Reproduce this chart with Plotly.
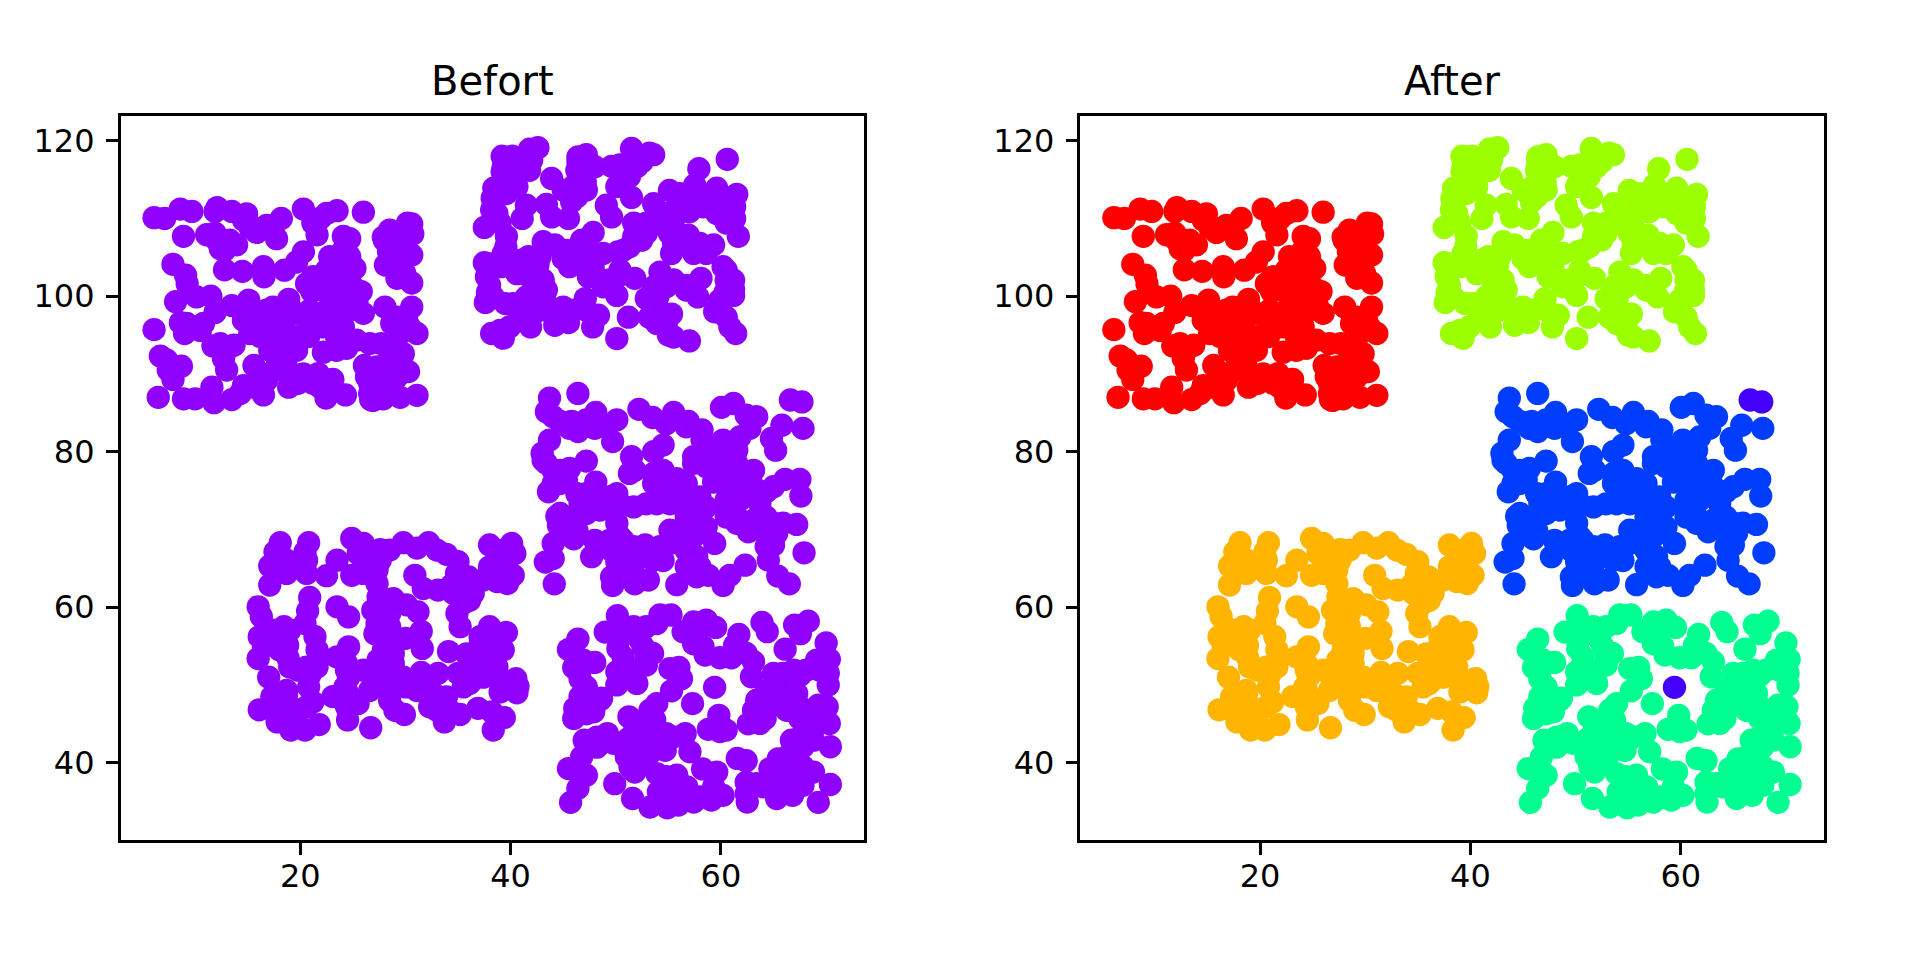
import plotly.graph_objects as go

cluster_red = [(6.1,110.1),(7.1,110.0),(8.6,111.2),(9.7,110.9),(8.9,107.7),(12.1,111.4),(11.9,110.9),(13.5,110.9),(14.9,110.6),(18.2,110.0),(20.3,111.2),(23.5,111.0),(26.0,110.8),(21.9,110.0),(21.6,107.9),(24.1,107.7),(24.7,107.4),(11.1,107.9),(11.9,108.1),(12.4,106.1),(13.95,106.6),(12.8,105.9),(14.6,109.8),(15.85,108.2),(16.8,109.1),(17.75,107.4),(28.5,108.5),(30.2,109.4),(30.6,109.3),(30.7,108.0),(28.0,107.2),(7.9,104.1),(9.1,102.7),(9.25,101.6),(8.15,99.3),(10.15,99.9),(11.5,100.0),(11.9,97.9),(13.5,98.8),(15.1,99.5),(12.8,103.4),(14.5,103.2),(16.5,103.8),(16.55,102.5),(18.5,103.35),(20.3,105.7),(19.65,104.4),(21.2,102.5),(23.3,104.2),(24.7,105.1),(25.2,103.6),(24.6,102.1),(21.1,100.6),(25.8,100.6),(28.4,105.7),(30.6,105.3),(29.2,102.3),(30.6,101.7),(28.1,104.0),(29.95,102.9),(29.5,105.1),(17.4,98.6),(18.9,99.6),(19.65,97.8),(14.6,96.9),(15.2,95.2),(17.1,96.5),(21.9,97.8),(23.5,98.2),(26.0,97.8),(28.05,98.6),(30.6,98.6),(30.1,97.1),(31.1,95.2),(29.5,95.2),(6.1,95.7),(8.6,96.6),(9.0,95.2),(10.5,95.6),(11.7,93.6),(13.7,93.7),(20.8,94.8),(22.2,92.8),(24.4,93.3),(26.6,93.9),(27.7,93.9),(17.75,93.9),(18.7,93.9),(22.2,96.05),(24.1,96.05),(23.1,99.9),(6.7,92.3),(8.7,91.0),(7.45,90.5),(7.9,89.3),(13.0,90.5),(12.7,92.0),(15.6,91.1),(17.7,92.4),(18.7,90.9),(20.3,90.0),(22.0,89.6),(23.1,89.3),(29.8,92.6),(29.0,90.9),(30.3,90.3),(26.1,91.1),(27.3,90.9),(26.6,88.8),(28.5,88.8),(6.5,87.0),(8.9,86.8),(10.0,86.8),(11.6,88.3),(11.8,86.3),(13.5,86.7),(14.6,88.5),(16.5,87.3),(16.8,89.2),(18.9,88.3),(19.8,88.8),(21.9,88.3),(22.45,86.9),(24.3,87.3),(26.7,86.7),(26.9,86.6),(27.9,86.8),(29.5,87.0),(31.1,87.25),
(22.2,100.8),(24.1,99.9),(24.7,98.2),(22.5,98.2),(20.9,98.2),(25.4,99.05),(23.45,101.6),(22.5,103.35),(24.1,103.8),(20.9,96.5),(19.65,94.8),(18.4,96.05),(16.8,98.2),(15.85,97.3),(18.4,98.2),(16.2,94.8),(17.1,93.05),(18.7,92.2),(19.65,93.05),(17.75,90.9),(19.0,89.6),(20.9,89.2),(26.3,89.6),(27.6,89.6),(28.2,91.3),(29.2,89.6),(26.6,87.5),(28.85,92.6),(28.7,96.5),(29.2,97.3),(30.4,96.05),(23.45,94.8),(25.35,94.35),(23.45,93.05),(22.8,105.1),(24.1,105.9),(23.8,102.5),(25.0,101.2),(24.4,99.05),(20.6,101.6),(22.2,102.5),(29.2,106.8),(29.5,103.35),(28.85,103.8),(29.8,106.8),(28.5,106.8),(27.9,107.6),(9.2,96.5),(10.8,96.5),(7.3,91.8),(7.9,90.9),(12.8,92.6),(12.4,93.9),(14.3,87.5),(15.2,88.3),(17.1,90.05),(21.7,90.05),(22.8,87.9),(21.2,88.8),(15.85,108.7),(15.2,108.9),(17.4,108.5),(12.05,107.2),(13.3,107.2),(22.5,110.65),(21.2,109.4)]

cluster_lime = [(39.2,118.0),(40.15,118.0),(41.8,118.9),(42.6,119.1),(39.2,116.0),(41.8,116.2),(39.9,117.5),(43.9,115.15),(46.4,117.9),(47.2,118.2),(46.4,117.3),(48.0,116.65),(49.6,116.7),(51.5,119.0),(51.2,116.9),(53.2,118.4),(53.6,118.2),(52.5,117.3),(51.3,115.4),(60.6,117.6),(57.9,116.4),(57.5,114.3),(55.1,113.6),(56.1,113.2),(59.6,113.9),(61.5,113.1),(38.4,113.9),(38.25,112.6),(38.35,111.7),(40.6,114.1),(39.6,113.2),(46.1,114.3),(47.2,113.65),(50.1,114.1),(51.5,112.7),(45.8,112.15),(41.5,111.7),(43.4,111.8),(41.1,110.0),(43.9,110.2),(45.5,110.0),(49.1,111.7),(49.6,110.2),(53.6,111.9),(54.8,110.65),(51.7,109.4),(57.0,110.85),(58.3,111.5),(61.3,111.5),(61.3,110.0),(59.6,110.65),(61.65,107.7),(37.5,108.85),(38.7,110.65),(39.6,107.7),(39.55,106.35),(43.1,107.0),(44.2,106.6),(46.75,107.2),(47.85,108.2),(47.85,105.5),(46.3,104.6),(45.6,103.8),(45.0,104.85),(50.2,105.7),(51.3,106.35),(52.45,107.2),(52.9,109.4),(55.1,108.1),(56.9,107.85),(55.3,105.5),(57.4,105.5),(58.6,105.5),(59.3,106.6),(37.5,104.3),(39.1,103.8),(41.7,105.1),(42.6,104.0),(40.6,102.9),(38.0,101.4),(37.8,100.5),(37.6,99.2),(39.5,99.05),(43.1,102.1),(43.4,100.8),(41.2,99.05),(42.5,99.25),(40.7,96.9),(41.9,96.05),(38.2,95.2),(39.3,94.6),(44.2,96.25),(45.5,96.6),(45.0,98.6),(47.1,99.7),(48.35,97.55),(47.8,96.05),(48.5,102.1),(49.4,102.1),(50.4,102.7),(51.8,102.3),(50.1,100.1),(51.2,97.3),(50.1,94.55),(54.2,103.1),(55.5,102.1),(56.7,101.4),(58.1,102.3),(57.8,99.9),(60.5,103.35),(60.2,103.8),(61.2,100.9),(60.4,100.5),(61.2,100.1),(59.4,98.0),(60.5,97.3),(61.4,95.2),(52.9,99.7),(54.0,99.9),(55.3,97.7),(53.9,96.5),(55.0,95.0),(55.5,94.75),(57.0,94.25),(53.2,97.3),
(39.3,116.65),(40.9,117.1),(40.25,115.4),(39.3,114.5),(38.8,113.2),(38.2,111.1),(39.0,109.4),(39.6,105.5),(38.35,104.2),(41.5,103.8),(41.8,102.5),(42.5,101.6),(40.9,104.6),(42.8,105.1),(41.5,99.9),(42.8,98.2),(40.25,99.05),(43.7,98.6),(46.0,98.2),(47.2,98.2),(43.1,99.9),(45.3,105.9),(46.9,105.5),(48.8,105.5),(47.85,103.8),(47.4,102.5),(48.8,101.2),(50.4,103.35),(52.9,108.1),(54.2,109.4),(55.5,109.8),(53.9,111.1),(55.8,111.1),(57.4,112.35),(58.6,112.35),(60.2,111.95),(60.5,109.4),(55.5,106.8),(58.0,106.8),(54.8,108.9),(51.7,107.65),(50.7,105.9),(52.0,116.65),(50.4,116.9),(50.4,114.5),(46.3,116.2),(46.3,112.8),(47.1,114.7),(45.0,113.65),(42.0,117.5),(54.8,101.2),(53.6,101.2),(53.9,98.6),(54.8,96.5),(54.2,97.8),(59.9,99.5),(60.85,96.05),(61.2,102.05),(60.5,102.05),(56.7,100.8),(40.9,97.8),(41.8,97.3),(39.0,95.6),(39.9,96.05),(38.35,99.9),(37.7,102.5),(39.3,105.5),(40.25,103.8)]

cluster_blue = [(43.7,86.9),(46.4,87.5),(43.4,85.15),(44.7,83.9),(45.8,83.9),(46.4,82.6),(48.1,85.05),(50.1,84.1),(48.0,83.0),(49.7,81.3),(52.2,85.45),(53.5,84.4),(55.5,85.05),(56.9,83.9),(58.2,82.8),(60.05,85.7),(61.2,86.2),(62.4,84.7),(63.4,84.5),(62.75,83.0),(65.8,83.4),(67.8,83.0),(64.8,81.7),(65.2,80.2),(43.7,81.5),(43.0,79.8),(43.4,78.5),(44.05,77.6),(45.6,77.85),(47.2,78.8),(43.6,74.85),(45.3,76.35),(48.1,76.1),(51.5,79.35),(51.8,77.6),(53.6,80.0),(54.5,80.85),(51.3,77.2),(54.5,77.2),(55.8,76.55),(53.6,75.9),(57.4,78.5),(60.2,81.5),(61.8,81.9),(61.5,80.2),(58.95,80.2),(60.5,77.6),(63.1,77.6),(64.3,74.85),(66.1,76.45),(67.5,76.45),(67.6,74.3),(59.3,76.1),(61.8,75.5),(58.0,74.2),(60.5,73.8),(47.2,74.6),(50.1,74.6),(48.8,73.3),(51.7,72.9),(53.9,73.3),(55.8,73.8),(44.4,71.7),(44.55,70.55),(46.1,71.6),(47.2,72.05),(46.0,68.8),(44.05,68.2),(43.3,65.8),(44.05,66.25),(44.15,63.0),(47.7,66.5),(48.0,68.6),(50.1,70.8),(50.4,69.05),(49.6,67.3),(51.7,67.8),(52.8,68.0),(55.15,69.9),(56.7,69.9),(57.7,71.6),(54.2,67.8),(54.5,66.0),(52.6,66.5),(56.7,67.3),(59.4,68.2),(58.6,70.3),(60.5,71.6),(62.6,69.7),(61.5,70.8),(63.7,71.6),(65.9,70.8),(67.2,70.65),(65.0,68.0),(64.5,66.05),(67.9,67.0),(65.4,64.0),(66.5,63.0),(62.3,65.4),(60.85,64.1),(60.2,62.8),(58.8,64.1),(57.7,63.9),(55.8,62.9),(53.1,63.5),(51.8,63.0),(49.7,62.8),(49.6,63.9),(50.1,65.8),(56.7,65.2),
(59.9,79.8),(61.5,78.5),(62.4,77.2),(63.1,75.5),(59.9,77.6),(58.6,78.05),(61.2,75.9),(58.6,72.9),(60.5,72.5),(56.7,73.3),(56.7,71.6),(55.15,73.3),(54.5,75.05),(52.9,73.3),(50.4,73.3),(49.4,74.2),(47.85,74.2),(46.6,73.3),(46.3,74.6),(48.5,72.5),(50.1,72.5),(45.0,70.3),(46.3,69.9),(44.7,72.05),(49.4,68.6),(50.7,68.6),(50.1,66.9),(51.0,66.05),(50.4,64.75),(51.7,65.6),(53.6,66.05),(55.15,68.2),(56.1,68.6),(57.4,69.05),(57.7,66.5),(58.0,65.2),(61.5,71.6),(63.1,71.2),(64.3,71.6),(65.0,70.8),(64.0,69.9),(65.3,69.5),(64.3,67.8),(63.1,74.2),(63.7,73.3),(61.8,73.8),(65.0,75.5),(44.7,77.6),(43.1,78.9),(44.05,75.9),(44.7,75.9),(47.2,84.1),(49.1,83.2),(45.6,83.0),(44.05,84.5),(56.7,83.2),(54.8,83.6),(58.2,81.5),(61.2,81.05),(57.4,79.35),(54.5,77.6),(53.6,77.2),(56.1,75.5),(56.7,75.9)]

cluster_orange = [(18.1,68.3),(20.8,68.3),(17.6,67.1),(20.45,67.1),(17.1,65.3),(18.7,64.35),(20.6,64.35),(17.1,62.85),(22.5,64.05),(23.5,66.05),(24.9,68.85),(26.0,68.2),(27.6,67.4),(24.9,64.1),(26.0,66.1),(27.3,64.8),(29.8,68.3),(32.2,68.3),(33.9,66.8),(35.0,65.85),(30.9,64.1),(33.1,62.2),(31.7,62.4),(34.4,62.85),(36.0,63.9),(38.0,68.0),(40.1,68.2),(40.4,66.9),(39.0,66.05),(40.25,64.1),(38.7,63.3),(39.7,63.05),(36.45,61.8),(20.9,61.25),(20.7,59.5),(23.5,60.05),(24.6,58.75),(16.0,60.05),(16.3,58.8),(27.4,61.3),(26.9,59.6),(28.85,61.1),(30.1,60.3),(31.2,59.4),(28.5,59.2),(34.9,59.2),(35.2,57.5),(18.45,57.5),(16.1,56.2),(17.4,56.0),(16.0,53.4),(21.4,56.2),(18.8,55.1),(20.45,57.9),(21.6,54.5),(18.85,53.4),(27.1,56.6),(28.5,56.2),(31.5,56.9),(30.0,56.0),(31.6,54.7),(34.1,54.3),(38.0,57.5),(39.6,56.75),(39.3,54.5),(37.1,55.3),(35.8,54.0),(24.6,54.9),(23.5,53.6),(27.4,53.2),(28.85,54.05),(17.0,51.0),(19.8,51.9),(20.9,51.25),(20.8,49.75),(24.6,51.0),(24.25,49.75),(27.3,50.2),(28.85,51.5),(30.0,49.75),(31.5,51.6),(33.1,51.5),(35.0,51.5),(36.1,50.2),(37.7,51.5),(38.7,52.3),(40.5,50.8),(40.7,49.8),(40.6,49.0),(39.0,49.1),(17.3,48.5),(18.7,48.7),(16.1,46.8),(17.8,45.25),(19.1,44.2),(20.45,44.2),(21.8,44.9),(20.0,46.75),(21.2,47.8),(23.1,48.5),(25.5,47.6),(24.5,45.5),(26.7,44.5),(29.0,46.75),(29.9,46.2),(32.3,47.2),(33.6,48.0),(33.7,45.25),(35.2,46.2),(36.9,47.0),(38.2,46.55),(39.4,45.8),(38.35,44.2),
(17.4,65.6),(19.66,65.6),(18.1,64.55),(25.5,66.9),(26.6,66.9),(26.0,64.35),(27.3,63.05),(27.6,66.05),(28.5,67.35),(31.1,67.6),(33.0,67.35),(34.85,64.35),(35.5,62.2),(35.5,60.5),(36.1,60.9),(34.55,61.8),(28.5,57.5),(27.3,57.9),(28.2,60.5),(27.9,54.5),(28.2,52.3),(28.85,52.75),(29.8,51.0),(26.95,51.9),(26.0,51.9),(24.4,51.9),(24.4,52.75),(21.9,53.6),(21.6,52.3),(20.6,52.3),(19.0,47.2),(18.05,46.75),(20.6,47.2),(19.3,45.0),(17.4,46.75),(32.65,48.9),(33.9,48.45),(33.0,46.75),(34.2,46.75),(35.5,49.75),(37.4,53.2),(36.1,52.3),(37.4,51.0),(38.7,51.0),(38.0,55.3),(38.7,55.75),(37.1,56.2),(19.0,57.05),(17.4,57.05),(16.5,54.9),(19.0,52.3),(18.05,54.5),(18.7,49.3),(24.4,49.3),(25.05,48.0),(24.4,47.2),(26.6,49.3),(29.2,49.75),(28.5,48.0),(31.1,49.3),(32.0,49.3),(39.95,63.9),(39.0,64.35),(38.0,65.2),(39.3,67.35),(37.4,63.5),(36.45,63.05),(20.6,66.05),(18.7,66.05)]

cluster_green = [(50.15,58.9),(46.4,55.9),(45.5,54.55),(49.0,56.8),(51.7,57.5),(52.6,57.3),(54.2,59.0),(55.25,59.0),(50.2,54.7),(52.6,54.9),(53.5,54.05),(57.4,58.1),(58.6,58.35),(59.5,57.4),(56.4,56.85),(57.4,55.3),(61.7,56.5),(63.9,58.05),(64.4,56.85),(61.3,55.1),(67.0,57.7),(68.3,58.2),(67.55,56.6),(66.1,54.6),(70.0,55.4),(58.5,53.85),(59.9,53.5),(61.0,53.5),(63.1,53.0),(46.0,52.25),(48.0,52.9),(46.6,50.8),(50.1,51.7),(52.9,52.55),(50.1,50.0),(52.0,50.2),(56.0,52.25),(55.15,52.1),(56.25,50.8),(55.3,49.25),(57.3,47.6),(53.9,47.6),(53.25,46.75),(62.9,51.05),(65.0,51.5),(66.9,51.9),(69.1,53.2),(70.3,53.3),(70.2,51.5),(70.2,50.0),(67.5,51.2),(65.0,48.5),(67.2,48.9),(63.1,46.75),(64.65,47.2),(69.25,47.4),(70.1,47.2),(70.3,45.05),(67.5,45.7),(68.8,45.5),(62.6,45.0),(64.2,45.7),(46.1,47.0),(46.0,45.7),(47.5,47.8),(47.9,46.55),(48.65,48.3),(46.75,48.0),(51.25,45.9),(52.6,45.25),(53.7,45.5),(59.8,46.1),(58.8,44.3),(59.9,44.0),(60.5,44.2),(49.2,43.75),(47.0,42.9),(46.75,40.75),(48.2,42.0),(51.2,43.1),(52.3,42.05),(53.25,41.2),(54.7,41.6),(54.8,43.75),(56.6,43.75),(57.05,41.4),(51.0,40.75),(66.7,42.9),(67.8,43.75),(68.8,42.9),(70.4,42.05),(65.45,40.5),(66.9,41.6),(61.55,40.55),(62.4,40.25),(58.25,39.2),(59.6,38.8),(45.5,39.25),(47.2,38.4),(46.4,36.7),(45.7,34.9),(49.9,37.3),(51.6,35.4),(51.8,38.8),(53.25,34.3),(54.9,34.2),(55.95,34.55),(54.05,36.25),(55.8,38.4),(56.75,36.9),(57.4,34.95),(59.1,35.2),(60.2,35.8),(62.5,34.95),(62.4,37.5),(64.65,39.25),(64.0,36.9),(65.3,35.4),(66.8,35.8),(68.8,38.8),(69.25,34.9),(70.4,37.2),(67.8,37.1),(66.25,38.2),
(50.4,57.05),(51.0,56.6),(52.3,55.8),(50.7,53.6),(52.9,53.6),(51.0,51.5),(51.7,51.9),(52.9,57.5),(53.9,57.9),(57.7,56.6),(58.3,54.9),(61.8,54.5),(62.4,54.05),(64.3,49.3),(65.6,49.75),(65.9,51.5),(68.1,51.9),(69.4,51.9),(66.55,48.05),(63.4,48.05),(63.7,45.05),(66.25,46.75),(67.5,47.2),(69.4,45.05),(46.6,48.5),(47.2,46.3),(47.2,49.75),(46.3,53.6),(46.6,51.9),(46.9,53.2),(48.5,48.05),(50.7,42.5),(49.8,42.5),(48.2,43.3),(47.5,42.0),(51.8,44.2),(52.9,43.3),(53.9,42.9),(55.5,43.3),(52.3,40.3),(51.35,39.5),(53.9,38.6),(54.8,38.2),(55.15,36.45),(54.2,34.75),(56.4,36.45),(58.0,35.6),(59.3,36.9),(62.4,36.0),(63.4,37.3),(64.65,37.3),(66.25,37.3),(65.6,36.9),(66.9,36.9),(66.25,40.75),(66.9,39.9),(67.8,39.5),(65.6,39.5),(67.5,42.9),(67.8,42.05)]

cluster_indigo = [(59.4,49.7),(66.6,86.65),(67.7,86.4)]

clusters = [cluster_red, cluster_lime, cluster_blue, cluster_orange, cluster_green, cluster_indigo]
after_colors = ["#ff0000", "#9bff00", "#003dff", "#ffb400", "#00ff90", "#4400ff"]
before_color = "#8f00ff"
titles = ["Befort", "After"]
x_ticks = [20, 40, 60]
y_ticks = [40, 60, 80, 100, 120]
x_range = [2.91, 73.6]
y_range = [30.06, 123.24]

BODY = 8
W, H = 1920 - 2 * BODY, 960 - 2 * BODY
INK = "#000000"
fig = go.Figure()
for pts, col in zip(clusters, after_colors):
    xs = [p[0] for p in pts]
    ys = [p[1] for p in pts]
    fig.add_trace(go.Scatter(x=xs, y=ys, mode="markers", xaxis="x", yaxis="y", showlegend=False,
                             marker=dict(color=before_color, size=23.3, line_width=0)))
    fig.add_trace(go.Scatter(x=xs, y=ys, mode="markers", xaxis="x2", yaxis="y2", showlegend=False,
                             marker=dict(color=col, size=23.3, line_width=0)))

axis = dict(range=x_range, tickvals=x_ticks, ticks="outside", ticklen=11.7, tickwidth=2.67, tickcolor=INK,
            showline=True, linewidth=2.67, linecolor=INK, mirror=True, showgrid=False, zeroline=False,
            tickfont=dict(family="DejaVu Sans", size=32, color=INK), ticklabelstandoff=-6)
yaxis = dict(axis, range=y_range, tickvals=y_ticks, ticklabelstandoff=5)
ydom = [1 - (840 - BODY) / H, 1 - (115.5 - BODY) / H]
left_dom = [(120.5 - BODY) / W, (864 - BODY) / W]
right_dom = [(1080.3 - BODY) / W, (1823.8 - BODY) / W]
fig.update_layout(
    width=W, height=H, margin=dict(l=0, r=0, t=0, b=0), paper_bgcolor="white", plot_bgcolor="white",
    xaxis=dict(axis, domain=left_dom, anchor="y"),
    yaxis=dict(yaxis, domain=ydom, anchor="x"),
    xaxis2=dict(axis, domain=right_dom, anchor="y2"),
    yaxis2=dict(yaxis, domain=ydom, anchor="x2"),
    annotations=[
        dict(text=titles[0], xref="paper", yref="paper", x=sum(left_dom) / 2, xanchor="center", y=ydom[1],
             yanchor="bottom", yshift=10, showarrow=False, font=dict(family="DejaVu Sans", size=40, color=INK)),
        dict(text=titles[1], xref="paper", yref="paper", x=sum(right_dom) / 2, xanchor="center", y=ydom[1],
             yanchor="bottom", yshift=10, showarrow=False, font=dict(family="DejaVu Sans", size=40, color=INK)),
    ],
)
fig.write_html("out.html")
